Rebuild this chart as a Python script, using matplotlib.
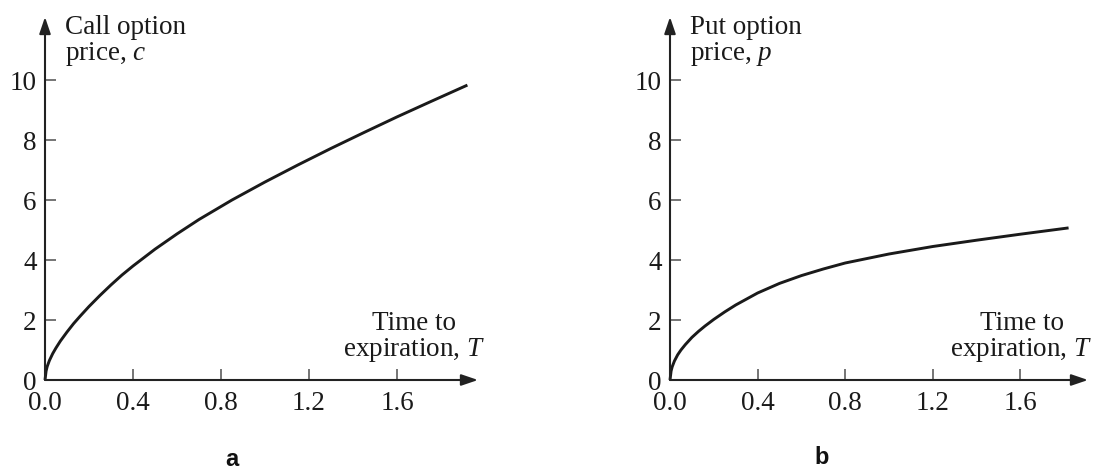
import matplotlib
matplotlib.use("Agg")
import matplotlib.pyplot as plt

# ---- data ----
call_T = [0, 0.005, 0.01, 0.02, 0.035, 0.05, 0.07, 0.1, 0.13, 0.16, 0.2, 0.25,
          0.3, 0.35, 0.4, 0.5, 0.6, 0.7, 0.85, 1.0, 1.15, 1.3, 1.45, 1.6, 1.75, 1.92]
call_c = [0, 0.3, 0.45, 0.65, 0.88, 1.07, 1.3, 1.6, 1.88, 2.13, 2.45, 2.82,
          3.17, 3.5, 3.8, 4.36, 4.87, 5.35, 6.0, 6.6, 7.17, 7.72, 8.25, 8.77, 9.27, 9.83]

put_T = [0, 0.005, 0.01, 0.02, 0.035, 0.05, 0.07, 0.1, 0.13, 0.16, 0.2, 0.25,
         0.3, 0.4, 0.5, 0.6, 0.7, 0.8, 1.0, 1.2, 1.4, 1.6, 1.82]
put_p = [0, 0.3, 0.44, 0.63, 0.84, 1.0, 1.18, 1.42, 1.62, 1.8, 2.02, 2.27,
         2.5, 2.9, 3.22, 3.48, 3.7, 3.9, 4.2, 4.45, 4.66, 4.86, 5.07]

x_ticks = [0.0, 0.4, 0.8, 1.2, 1.6]
x_tick_labels = ["0.0", "0.4", "0.8", "1.2", "1.6"]
y_ticks = [0, 2, 4, 6, 8, 10]
y_tick_labels = ["0", "2", "4", "6", "8", "10"]

y_titles = ["Call option\nprice, $c$", "Put option\nprice, $p$"]
x_title = "Time to\nexpiration, $T$"
panel_letters = ["a", "b"]

plt.rcParams["font.family"] = ["Liberation Serif", "DejaVu Serif"]
plt.rcParams["mathtext.fontset"] = "custom"
plt.rcParams["mathtext.rm"] = "Liberation Serif"
plt.rcParams["mathtext.it"] = "Liberation Serif:italic"

W, H = 1095, 474
fig = plt.figure(figsize=(W / 100, H / 100), dpi=100)

axis_color = "#6a6a6a"
fs = 19.5

panels = [
    dict(left=45, right=478, T=call_T, V=call_c, title=y_titles[0], xt_right=2.0,
         letter=(232, 460)),
    dict(left=670, right=1088, T=put_T, V=put_p, title=y_titles[1], xt_right=1.93,
         letter=(822, 458)),
]
y0_px, ytop_px = 380, 17
scale_x = [220, 219]

for i, pnl in enumerate(panels):
    wpx = pnl["right"] - pnl["left"]
    ax = fig.add_axes([pnl["left"] / W, (H - y0_px) / H, wpx / W, (y0_px - ytop_px) / H])
    ax.set_xlim(0, wpx / scale_x[i])
    ax.set_ylim(0, (y0_px - ytop_px) / 30.0)
    for s in ax.spines.values():
        s.set_visible(False)
    ax.set_xticks(x_ticks)
    ax.set_xticklabels(x_tick_labels)
    ax.set_yticks(y_ticks)
    ax.set_yticklabels(y_tick_labels)
    ax.tick_params(direction="in", length=8, width=1.3, color=axis_color,
                   labelsize=fs, labelcolor="#1a1a1a")
    ax.tick_params(axis="x", pad=8)
    ax.tick_params(axis="y", pad=6)
    ax.patch.set_visible(False)

    # axes with arrows
    for xy in [(1, 0), (0, 1)]:
        ax.annotate("", xy=xy, xytext=(0, 0), xycoords="axes fraction",
                    textcoords="axes fraction",
                    arrowprops=dict(arrowstyle="-|>,head_length=0.5,head_width=0.17",
                                    color=axis_color, lw=1.5, shrinkA=0, shrinkB=0,
                                    mutation_scale=20, fc="#222222", ec="#222222"))

    ax.plot(pnl["T"], pnl["V"], color="#1a1a1a", lw=2.1, solid_capstyle="butt",
            solid_joinstyle="round", clip_on=False)

    ax.text(20 / scale_x[i], (y0_px - 15) / 30.0, pnl["title"], ha="left", va="top",
            fontsize=fs, color="#1a1a1a", linespacing=1.0)
    ax.text(pnl["xt_right"], (y0_px - 364) / 30.0, x_title, ha="right", va="bottom",
            multialignment="center", fontsize=fs, color="#1a1a1a", linespacing=1.0)

    lx, ly = pnl["letter"]
    fig.text(lx / W, 1 - ly / H, panel_letters[i], ha="center", va="center",
             fontsize=17, fontweight="bold", family=["Liberation Sans", "DejaVu Sans"],
             color="#111111")

fig.savefig("out.png", dpi=100)
